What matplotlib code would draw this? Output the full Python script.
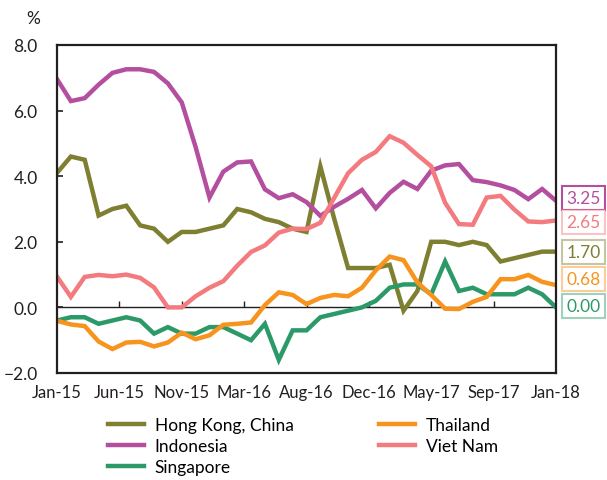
import matplotlib
matplotlib.use("Agg")
import matplotlib.pyplot as plt
import numpy as np

plt.rcParams['font.family'] = ['Lato', 'DejaVu Sans']

months = np.arange(37)
hong_kong = [4.1, 4.6, 4.5, 2.8, 3.0, 3.1, 2.5, 2.4, 2.0, 2.3, 2.3, 2.4,
             2.5, 3.0, 2.9, 2.7, 2.6, 2.4, 2.3, 4.3, 2.7, 1.2, 1.2, 1.2,
             1.3, -0.1, 0.5, 2.0, 2.0, 1.9, 2.0, 1.9, 1.4, 1.5, 1.6, 1.7, 1.7]
indonesia = [6.96, 6.29, 6.38, 6.79, 7.15, 7.26, 7.26, 7.18, 6.83, 6.25, 4.89, 3.35,
             4.14, 4.42, 4.45, 3.60, 3.33, 3.45, 3.21, 2.79, 3.07, 3.31, 3.58, 3.02,
             3.49, 3.83, 3.61, 4.17, 4.33, 4.37, 3.88, 3.82, 3.72, 3.58, 3.30, 3.61, 3.25]
singapore = [-0.4, -0.3, -0.3, -0.5, -0.4, -0.3, -0.4, -0.8, -0.6, -0.8, -0.8, -0.6,
             -0.6, -0.8, -1.0, -0.5, -1.6, -0.7, -0.7, -0.3, -0.2, -0.1, 0.0, 0.2,
             0.6, 0.7, 0.7, 0.4, 1.4, 0.5, 0.6, 0.4, 0.4, 0.4, 0.6, 0.4, 0.0]
thailand = [-0.41, -0.52, -0.57, -1.04, -1.27, -1.07, -1.05, -1.19, -1.07, -0.77, -0.97, -0.85,
            -0.53, -0.50, -0.46, 0.07, 0.46, 0.38, 0.10, 0.29, 0.38, 0.34, 0.60, 1.13,
            1.55, 1.44, 0.76, 0.38, -0.04, -0.05, 0.17, 0.32, 0.86, 0.86, 0.99, 0.78, 0.68]
viet_nam = [0.94, 0.32, 0.93, 0.99, 0.95, 1.00, 0.90, 0.61, 0.00, 0.00, 0.34, 0.60,
            0.80, 1.27, 1.69, 1.89, 2.28, 2.40, 2.39, 2.58, 3.34, 4.09, 4.50, 4.74,
            5.22, 5.02, 4.65, 4.30, 3.19, 2.54, 2.52, 3.35, 3.40, 2.98, 2.62, 2.60, 2.65]

tick_labels = ['Jan-15', 'Jun-15', 'Nov-15', 'Mar-16', 'Aug-16', 'Dec-16', 'May-17', 'Sep-17', 'Jan-18']
end_labels = ['3.25', '2.65', '1.70', '0.68', '0.00']

c_hk = '#7f7f32'
c_id = '#b44f9f'
c_sg = '#2c9a68'
c_th = '#f7941d'
c_vn = '#f37b7f'

fig = plt.figure(figsize=(6.07, 4.81), dpi=100)
ax = fig.add_axes([57/607, 1-374/481, (556-57)/607, (374-46)/481])

lw = 3.2
ax.plot(months, hong_kong, color=c_hk, lw=lw, label='Hong Kong, China', solid_joinstyle='miter')
ax.plot(months, indonesia, color=c_id, lw=lw, label='Indonesia', solid_joinstyle='miter')
ax.plot(months, singapore, color=c_sg, lw=lw, label='Singapore', solid_joinstyle='miter')
ax.plot(months, thailand, color=c_th, lw=lw, label='Thailand', solid_joinstyle='miter')
ax.plot(months, viet_nam, color=c_vn, lw=lw, label='Viet Nam', solid_joinstyle='miter')

ax.set_xlim(0, 36)
ax.set_ylim(-2, 8)
ax.set_yticks([-2, 0, 2, 4, 6, 8])
ax.set_yticklabels(['\u22122.0', '0.0', '2.0', '4.0', '6.0', '8.0'])
ax.tick_params(axis='y', direction='in', length=4, width=1.2, pad=14, labelsize=12.5, colors='#231f20')

for s in ax.spines.values():
    s.set_linewidth(1.6)
    s.set_color('#231f20')

# x axis: labels at the frame bottom, tick marks on the zero line
tick_pos = np.linspace(0, 36, len(tick_labels))
ax.spines['bottom'].set_visible(False)
ax.axhline(0, color='#231f20', lw=1.0, zorder=1)
ax.set_xticks(tick_pos)
ax.tick_params(axis='x', direction='in', length=0, labelbottom=False)
sec = ax.secondary_xaxis(0)
sec.set_xticks(tick_pos)
sec.set_xticklabels(tick_labels)
sec.tick_params(axis='x', length=0, pad=8, labelsize=12, colors='#231f20')
sec.spines['bottom'].set_linewidth(1.6)
sec.spines['bottom'].set_color('#231f20')
zero = ax.secondary_xaxis(0.2)
zero.set_xticks(tick_pos[1:-1])
zero.spines['bottom'].set_visible(False)
zero.xaxis.set_ticks_position('top')
zero.tick_params(axis='x', direction='out', length=4, width=1.0, labeltop=False,
                 labelbottom=False, colors='#231f20')

fig.text(33/607, 1-19/481, '%', ha='center', va='center', fontsize=12.5, color='#231f20')

# end value boxes
box_y = [199, 223, 253, 280, 307]
box_cols = [c_id, c_vn, c_hk, c_th, c_sg]
box_alpha = [1.0, 0.45, 0.45, 0.45, 0.45]
for lab, yy, col, a in zip(end_labels, box_y, box_cols, box_alpha):
    fig.text(583.5/607, 1-yy/481, lab, ha='center', va='center', fontsize=12.5, color=col,
             bbox=dict(boxstyle='square,pad=0.25', facecolor='white',
                       edgecolor=matplotlib.colors.to_rgba(col, a), linewidth=1.5))

handles, labels = ax.get_legend_handles_labels()
fig.legend(handles, labels, ncol=2, loc='upper left', bbox_to_anchor=(108/607, 1-418/481),
           frameon=False, fontsize=12.5, handlelength=2.1, handletextpad=0.6,
           columnspacing=4.9, labelspacing=0.28, borderaxespad=0, borderpad=0)

fig.savefig('out.png', dpi=100)
